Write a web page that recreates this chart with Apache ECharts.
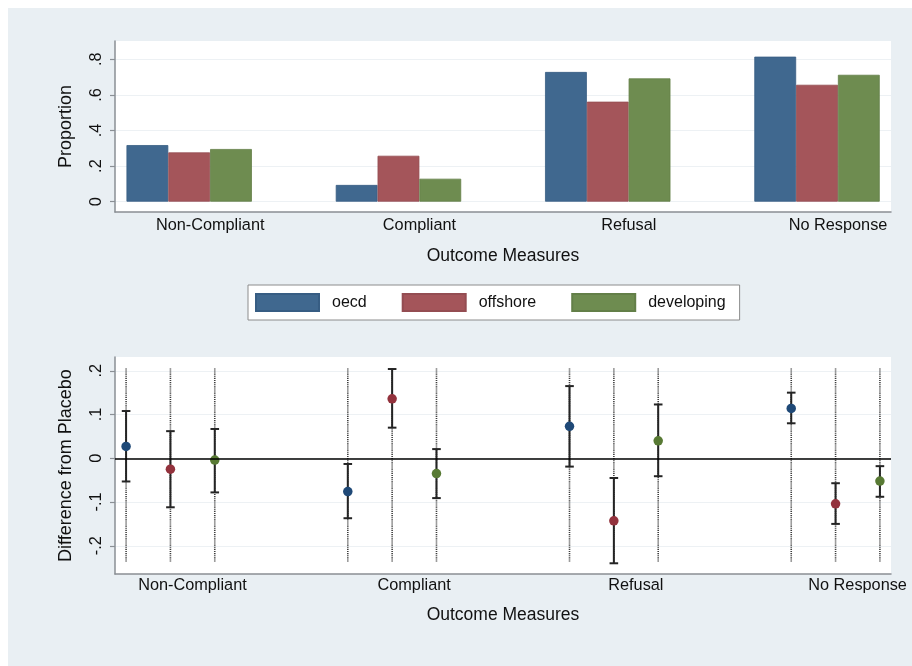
<!DOCTYPE html>
<html>
<head>
<meta charset="utf-8">
<script src="https://cdn.jsdelivr.net/npm/echarts@6/dist/echarts.min.js"></script>
<style>
  html, body { margin: 0; padding: 0; background: #fff; }
  #frame { position: relative; width: 912px; height: 666px; overflow: hidden; }
  #panel { position: absolute; left: 8px; top: 8px; right: 0; bottom: 0; background: #e9eff3; }
  #chart { position: absolute; left: 0; top: 0; width: 912px; height: 666px; }
</style>
</head>
<body>
<div id="frame"><div id="panel"></div><div id="chart"></div></div>
<script>
// Outcome categories and comparison groups
const categories = ['Non-Compliant', 'Compliant', 'Refusal', 'No Response'];
const groups = ['oecd', 'offshore', 'developing'];

// Proportion of each outcome, by group
const oecdShare       = [0.318, 0.094, 0.729, 0.815];
const offshoreShare   = [0.277, 0.258, 0.562, 0.657];
const developingShare = [0.296, 0.129, 0.693, 0.713];

// Difference from placebo: estimate and confidence bounds, by group
const oecdDiff       = [0.027, -0.076, 0.073, 0.114];
const oecdLow        = [-0.053, -0.137, -0.019, 0.080];
const oecdHigh       = [0.108, -0.013, 0.165, 0.150];
const offshoreDiff   = [-0.025, 0.136, -0.143, -0.104];
const offshoreLow    = [-0.112, 0.070, -0.240, -0.150];
const offshoreHigh   = [0.062, 0.204, -0.045, -0.057];
const developingDiff = [-0.004, -0.035, 0.040, -0.052];
const developingLow  = [-0.078, -0.091, -0.041, -0.088];
const developingHigh = [0.067, 0.021, 0.123, -0.018];

// Span of the dotted guide drawn behind each estimate
const guideLow = -0.236;
const guideHigh = 0.205;

// Tick values and labels
const proportionTicks = [0, 0.2, 0.4, 0.6, 0.8];
const proportionTickLabels = ['0', '.2', '.4', '.6', '.8'];
const diffTicks = [-0.2, -0.1, 0, 0.1, 0.2];
const diffTickLabels = ['-.2', '-.1', '0', '.1', '.2'];

const FONT = '"Liberation Sans", Arial, sans-serif';
const barColors = ['#40688f', '#a4555a', '#6e8c50'];
const barEdges = ['#375d83', '#944d52', '#637f48'];
const dotColors = ['#1f4977', '#93323d', '#587a34'];
const shares = [oecdShare, offshoreShare, developingShare];
const diffs = [oecdDiff, offshoreDiff, developingDiff];
const lows = [oecdLow, offshoreLow, developingLow];
const highs = [oecdHigh, offshoreHigh, developingHigh];
const groupOffsets = [-0.2, 0, 0.2];

const axisGray = '#8a8f94';
const textColor = '#111';

function tickLabeller(values, labels) {
  return function (v) {
    const k = values.findIndex(t => Math.abs(t - v) < 1e-9);
    return k >= 0 ? labels[k] : '';
  };
}

function categoryAxis(gridIndex, min, max, shift, nameGap, labelMargin) {
  return {
    type: 'value', gridIndex, min, max,
    name: 'Outcome Measures', nameLocation: 'middle', nameGap,
    nameTextStyle: { fontFamily: FONT, fontSize: 17.5, color: textColor },
    axisLine: { show: true, onZero: false, lineStyle: { color: axisGray, width: 1.5 } },
    axisTick: { show: false },
    splitLine: { show: false },
    axisLabel: {
      customValues: [0, 1, 2, 3],
      formatter: v => categories[Math.round(v)],
      fontFamily: FONT, fontSize: 16.3, color: textColor,
      margin: labelMargin, padding: [0, 0, 0, shift]
    }
  };
}

function valueAxis(gridIndex, min, max, name, ticks, tickLabels) {
  return {
    type: 'value', gridIndex, min, max,
    name, nameLocation: 'middle', nameGap: 40,
    nameTextStyle: { fontFamily: FONT, fontSize: 18, color: textColor },
    axisLine: { show: true, onZero: false, lineStyle: { color: axisGray, width: 1.5 } },
    axisTick: { show: true, customValues: ticks, length: 5, lineStyle: { color: axisGray, width: 1.2 } },
    splitLine: { show: true, lineStyle: { color: '#edf1f4', width: 1 } },
    axisLabel: {
      customValues: ticks,
      formatter: tickLabeller(ticks, tickLabels),
      rotate: 90, margin: 10,
      fontFamily: FONT, fontSize: 16.3, color: textColor
    }
  };
}

const series = [];

// Top panel: grouped bars
groups.forEach((g, s) => {
  series.push({
    name: g, type: 'bar', xAxisIndex: 0, yAxisIndex: 0,
    barWidth: 41.8, barGap: '0%',
    itemStyle: { color: barColors[s], borderColor: barEdges[s], borderWidth: 0.8 },
    data: shares[s].map((v, i) => [i, v])
  });
});

// Bottom panel: dotted guides behind each estimate
const guideData = [];
groups.forEach((g, s) => categories.forEach((c, i) => guideData.push([i + groupOffsets[s], guideLow, guideHigh])));
series.push({
  type: 'custom', xAxisIndex: 1, yAxisIndex: 1, silent: true, z: 2,
  encode: { x: 0, y: [1, 2] },
  data: guideData,
  renderItem: function (params, api) {
    const a = api.coord([api.value(0), api.value(2)]);
    const b = api.coord([api.value(0), api.value(1)]);
    return {
      type: 'line',
      shape: { x1: a[0], y1: a[1], x2: b[0], y2: b[1] },
      style: { stroke: '#3c3c3c', lineWidth: 1.6, lineDash: [1, 0.9] }
    };
  },
  markLine: {
    silent: true, symbol: ['none', 'none'], animation: false,
    label: { show: false },
    lineStyle: { color: '#000', width: 1.6, type: 'solid' },
    data: [{ yAxis: 0 }]
  }
});

// Bottom panel: confidence intervals with caps
const ciData = [];
groups.forEach((g, s) => categories.forEach((c, i) => ciData.push([i + groupOffsets[s], lows[s][i], highs[s][i]])));
series.push({
  type: 'custom', xAxisIndex: 1, yAxisIndex: 1, silent: true, z: 3,
  encode: { x: 0, y: [1, 2] },
  data: ciData,
  renderItem: function (params, api) {
    const x = api.value(0);
    const top = api.coord([x, api.value(2)]);
    const bot = api.coord([x, api.value(1)]);
    const half = 4.3;
    const st = { stroke: '#242424', lineWidth: 2 };
    return {
      type: 'group',
      children: [
        { type: 'line', shape: { x1: top[0], y1: top[1], x2: bot[0], y2: bot[1] }, style: st },
        { type: 'line', shape: { x1: top[0] - half, y1: top[1], x2: top[0] + half, y2: top[1] }, style: st },
        { type: 'line', shape: { x1: bot[0] - half, y1: bot[1], x2: bot[0] + half, y2: bot[1] }, style: st }
      ]
    };
  }
});

// Bottom panel: point estimates
groups.forEach((g, s) => {
  series.push({
    name: g, type: 'scatter', xAxisIndex: 1, yAxisIndex: 1, z: 4,
    symbol: 'circle', symbolSize: 9.5,
    itemStyle: { color: dotColors[s], opacity: 1 },
    data: diffs[s].map((v, i) => [i + groupOffsets[s], v])
  });
});

const chart = echarts.init(document.getElementById('chart'), null, { renderer: 'canvas' });
chart.setOption({
  animation: false,
  backgroundColor: 'transparent',
  textStyle: { fontFamily: FONT },
  grid: [
    { left: 115, right: 21, top: 41, bottom: 454, show: true, backgroundColor: '#fff', borderWidth: 0 },
    { left: 115, right: 21, top: 357, bottom: 92, show: true, backgroundColor: '#fff', borderWidth: 0 }
  ],
  xAxis: [
    categoryAxis(0, -0.3545, 3.3535, 42, 35, 6),
    categoryAxis(1, -0.25, 3.25, 44, 32, 4)
  ],
  yAxis: [
    valueAxis(0, -0.058, 0.903, 'Proportion', proportionTicks, proportionTickLabels),
    valueAxis(1, -0.2645, 0.2315, 'Difference from Placebo', diffTicks, diffTickLabels)
  ],
  legend: {
    data: groups, left: 248, top: 285, orient: 'horizontal',
    icon: 'rect', itemWidth: 63, itemHeight: 17, itemGap: 35,
    padding: [8, 14, 8, 7],
    backgroundColor: '#fff', borderColor: '#8c8c8c', borderWidth: 1,
    selectedMode: false,
    textStyle: { fontFamily: FONT, fontSize: 16, color: textColor, padding: [0, 0, 0, 8] }
  },
  series
});
</script>
</body>
</html>
